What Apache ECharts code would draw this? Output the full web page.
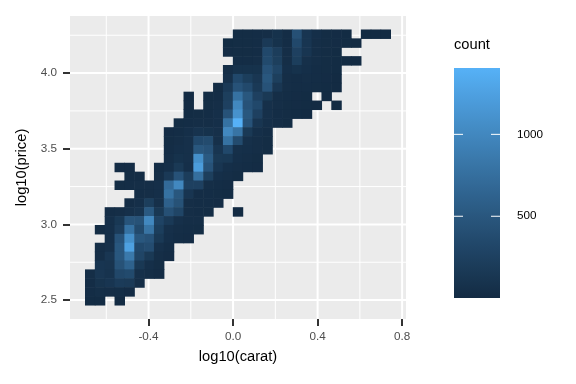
<!DOCTYPE html>
<html><head><meta charset="utf-8">
<script src="https://cdn.jsdelivr.net/npm/echarts@6/dist/echarts.min.js"></script>
<style>html,body{margin:0;padding:0;background:#fff}#c{width:576px;height:384px}</style>
</head><body><div id="c"></div>
<script>
// ---- data ----
const xBinOrigin = -0.69940, xBinWidth = 0.046627;   // log10(carat) bins
const yBinOrigin = 2.46606,  yBinWidth = 0.058716;   // log10(price) bins
const xBreaks = [-0.4, 0.0, 0.4, 0.8];
const xMinorBreaks = [-0.6, -0.2, 0.2, 0.6];
const yBreaks = [2.5, 3.0, 3.5, 4.0];
const yMinorBreaks = [2.75, 3.25, 3.75, 4.25];
const legendBreaks = [500, 1000];
// counts per bin; rows listed from top (highest price bin) to bottom; columns = carat bins from left
const countRows = [
 [0,0,0,0,0,0,0,0,0,0,0,0,0,0,0,20,20,25,40,80,25,420,120,50,20,15,10,0,1,1,1],
 [0,0,0,0,0,0,0,0,0,0,0,0,0,0,10,20,20,25,170,80,30,340,120,40,20,15,10,3],
 [0,0,0,0,0,0,0,0,0,0,0,0,0,0,15,20,20,30,340,210,40,250,120,40,20,10],
 [0,0,0,0,0,0,0,0,0,0,0,0,0,0,0,25,25,40,360,230,40,220,60,40,20,10,5,1],
 [0,0,0,0,0,0,0,0,0,0,0,0,0,0,40,80,80,80,450,300,50,80,50,30,20,10],
 [0,0,0,0,0,0,0,0,0,0,0,0,0,0,60,340,220,130,500,230,40,30,40,30,15,5],
 [0,0,0,0,0,0,0,0,0,0,0,0,0,20,170,450,350,170,450,130,40,30,30,20,10,5],
 [0,0,0,0,0,0,0,0,0,0,5,0,20,30,230,780,500,250,160,40,30,15,10,0,2],
 [0,0,0,0,0,0,0,0,0,0,5,0,20,40,250,1000,450,340,60,40,20,15,10,5,0,1],
 [0,0,0,0,0,0,0,0,0,0,10,20,30,50,450,1100,500,250,60,30,20,10,5],
 [0,0,0,0,0,0,0,0,0,20,30,40,40,50,780,1405,450,120,50,30,10],
 [0,0,0,0,0,0,0,0,15,30,50,100,80,60,1000,800,160,50,30],
 [0,0,0,0,0,0,0,0,20,40,60,340,370,60,780,370,60,40,20],
 [0,0,0,0,0,0,0,0,30,50,60,500,450,120,340,60,50,40,20],
 [0,0,0,0,0,0,0,0,40,80,60,1080,520,160,150,50,40,20],
 [0,0,0,15,15,0,0,30,50,160,50,1200,450,120,50,40,30,15],
 [0,0,0,0,20,20,0,40,170,450,210,750,230,50,40,20],
 [0,0,0,20,30,40,40,50,700,1000,250,250,40,30,15],
 [0,0,0,0,0,30,40,50,780,500,120,30,25,20,10],
 [0,0,0,0,30,50,220,60,600,440,40,30,25,15],
 [0,0,30,40,60,100,520,150,420,300,40,30,20,0,0,1],
 [0,0,50,150,470,440,1000,280,170,60,40,40],
 [0,20,50,200,780,360,800,220,60,40,30,20],
 [0,0,50,450,1080,500,450,160,50,30,15],
 [0,40,60,500,1250,340,380,60,30],
 [0,40,130,500,850,300,160,40,15],
 [0,120,110,440,620,150,50,20],
 [40,130,100,330,360,60,40,15],
 [30,90,120,190,180,40],
 [30,45,40,35,15],
 [12,8,0,1]
];

// ---- build cells ----
const nRows = countRows.length;
let nCols = 0;
const cells = [];
countRows.forEach((row, r) => {
  const j = nRows - 1 - r;
  nCols = Math.max(nCols, row.length);
  row.forEach((c, i) => {
    if (c > 0) cells.push([xBinOrigin + i * xBinWidth, xBinOrigin + (i + 1) * xBinWidth,
                           yBinOrigin + j * yBinWidth, yBinOrigin + (j + 1) * yBinWidth, c]);
  });
});
const vals = cells.map(c => c[4]);
const vMin = Math.min(...vals), vMax = Math.max(...vals);
const xLo = xBinOrigin, xHi = xBinOrigin + nCols * xBinWidth;
const yLo = yBinOrigin, yHi = yBinOrigin + nRows * yBinWidth;
const xPad = (xHi - xLo) * 0.05, yPad = (yHi - yLo) * 0.05;
const xMin = xLo - xPad, xMax = xHi + xPad, yMin = yLo - yPad, yMax = yHi + yPad;

// ---- Lab gradient (ggplot default #132B43 -> #56B1F7) ----
function hex2rgb(h){return [1,3,5].map(k=>parseInt(h.slice(k,k+2),16));}
function lin(c){c/=255;return c<=0.04045?c/12.92:Math.pow((c+0.055)/1.055,2.4);}
function unlin(c){c=c<=0.0031308?12.92*c:1.055*Math.pow(c,1/2.4)-0.055;return Math.max(0,Math.min(255,Math.round(c*255)));}
const Wn=[0.95047,1,1.08883];
function rgb2lab(rgb){const [r,g,b]=rgb.map(lin);
  const X=(0.4124564*r+0.3575761*g+0.1804375*b)/Wn[0],Y=(0.2126729*r+0.7151522*g+0.0721750*b)/Wn[1],Z=(0.0193339*r+0.1191920*g+0.9503041*b)/Wn[2];
  const f=t=>t>0.008856?Math.cbrt(t):7.787*t+16/116;
  const fx=f(X),fy=f(Y),fz=f(Z);return [116*fy-16,500*(fx-fy),200*(fy-fz)];}
function lab2rgb([L,a,bb]){const fy=(L+16)/116,fx=fy+a/500,fz=fy-bb/200;
  const fi=t=>{const t3=t*t*t;return t3>0.008856?t3:(t-16/116)/7.787;};
  const X=fi(fx)*Wn[0],Y=fi(fy)*Wn[1],Z=fi(fz)*Wn[2];
  const r=3.2404542*X-1.5371385*Y-0.4985314*Z,g=-0.9692660*X+1.8760108*Y+0.0415560*Z,b=0.0556434*X-0.2040259*Y+1.0572252*Z;
  return '#'+[r,g,b].map(unlin).map(v=>v.toString(16).padStart(2,'0')).join('');}
const labLow=rgb2lab(hex2rgb('#132B43')),labHigh=rgb2lab(hex2rgb('#56B1F7'));
const stops=[];for(let k=0;k<=20;k++){const t=k/20;stops.push(lab2rgb(labLow.map((v,q)=>v+(labHigh[q]-v)*t)));}

// ---- legend geometry ----
const barX=454, barY=68, barW=46, barH=230;
const FONT='"Liberation Sans", Arial, sans-serif';
const legendEls=[
  {type:'text',x:454,y:45,style:{text:'count',fontSize:14.7,fontFamily:FONT,fill:'#000',align:'left',verticalAlign:'middle'}},
  {type:'rect',shape:{x:barX,y:barY,width:barW,height:barH},
   style:{fill:new echarts.graphic.LinearGradient(0,1,0,0,stops.map((c,k)=>({offset:k/20,color:c})))}}
];
legendBreaks.forEach(v=>{
  const y=barY+barH-(v-vMin)/(vMax-vMin)*barH;
  legendEls.push({type:'line',shape:{x1:barX,y1:y,x2:barX+9,y2:y},style:{stroke:'#fff',lineWidth:1}});
  legendEls.push({type:'line',shape:{x1:barX+barW-9,y1:y,x2:barX+barW,y2:y},style:{stroke:'#fff',lineWidth:1}});
  legendEls.push({type:'text',x:517,y:y,style:{text:String(v),fontSize:11.7,fontFamily:FONT,fill:'#000',align:'left',verticalAlign:'middle'}});
});
legendEls.push({type:'text',x:238,y:357,style:{text:'log10(carat)',fontSize:14.7,fontFamily:FONT,fill:'#000',align:'center',verticalAlign:'middle'}});
legendEls.push({type:'text',x:22,y:167.5,rotation:Math.PI/2,style:{text:'log10(price)',fontSize:14.7,fontFamily:FONT,fill:'#000',align:'center',verticalAlign:'middle'}});

const xGrid=xBreaks.map(v=>[v,3,1]).concat(xMinorBreaks.map(v=>[v,3,0]));
const yGrid=yBreaks.map(v=>[0,v,1]).concat(yMinorBreaks.map(v=>[0,v,0]));

const chart=echarts.init(document.getElementById('c'),null,{renderer:'canvas'});
chart.setOption({
  animation:false,
  grid:{left:70,right:170,top:16,bottom:65,show:true,backgroundColor:'#EBEBEB',borderWidth:0},
  xAxis:{type:'value',min:xMin,max:xMax,splitLine:{show:false},axisLine:{show:false,onZero:false},
    axisTick:{show:true,length:7,lineStyle:{color:'#333333',width:2},customValues:xBreaks},
    axisLabel:{customValues:xBreaks,formatter:v=>Number(v).toFixed(1),color:'#4D4D4D',fontSize:11.7,fontFamily:FONT,margin:12}},
  yAxis:{type:'value',min:yMin,max:yMax,splitLine:{show:false},axisLine:{show:false,onZero:false},
    axisTick:{show:true,length:7,lineStyle:{color:'#333333',width:2},customValues:yBreaks},
    axisLabel:{customValues:yBreaks,formatter:v=>Number(v).toFixed(1),color:'#4D4D4D',fontSize:11.7,fontFamily:FONT,margin:13}},
  visualMap:{type:'continuous',show:false,min:vMin,max:vMax,dimension:4,seriesIndex:2,inRange:{color:stops}},
  series:[
    {type:'custom',silent:true,z:1,data:xGrid,encode:{x:0,y:1},
     renderItem:(params,api)=>{const p=api.coord([api.value(0),api.value(1)]);const cs=params.coordSys;
       return {type:'line',shape:{x1:p[0],y1:cs.y,x2:p[0],y2:cs.y+cs.height},style:{stroke:'#fff',lineWidth:api.value(2)?2:1}};}},
    {type:'custom',silent:true,z:1,data:yGrid,encode:{x:0,y:1},
     renderItem:(params,api)=>{const p=api.coord([api.value(0),api.value(1)]);const cs=params.coordSys;
       return {type:'line',shape:{x1:cs.x,y1:p[1],x2:cs.x+cs.width,y2:p[1]},style:{stroke:'#fff',lineWidth:api.value(2)?2:1}};}},
    {type:'custom',z:2,silent:true,data:cells,encode:{x:[0,1],y:[2,3]},
     renderItem:(params,api)=>{const a=api.coord([api.value(0),api.value(3)]);const b=api.coord([api.value(1),api.value(2)]);
       const col=api.visual('color');
       return {type:'rect',shape:{x:a[0]-0.3,y:a[1]-0.3,width:b[0]-a[0]+0.6,height:b[1]-a[1]+0.6},style:{fill:col}};}}
  ],
  graphic:legendEls
});
</script></body></html>
